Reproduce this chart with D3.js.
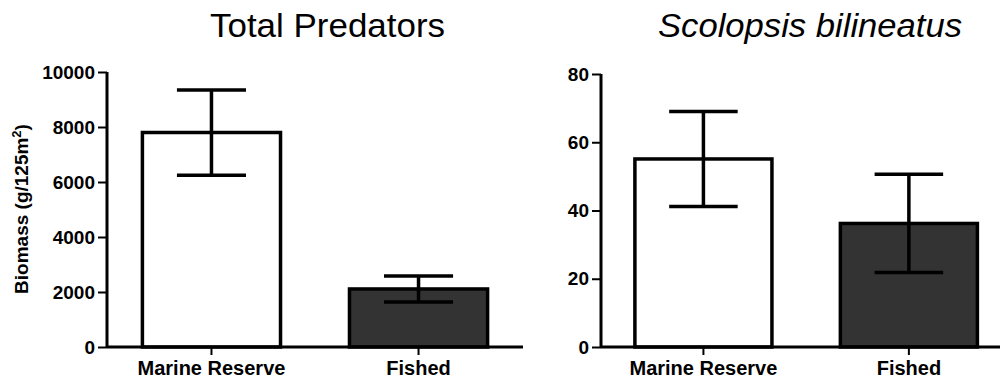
<!DOCTYPE html>
<html>
<head>
<meta charset="utf-8">
<script src="https://cdn.jsdelivr.net/npm/d3@7"></script>
<style>
  html, body { margin: 0; padding: 0; background: #fff; }
  svg { display: block; }
  text { font-family: "Liberation Sans", Arial, sans-serif; }
</style>
</head>
<body>
<svg id="chart" width="1003" height="381"></svg>
<script>
const categories = ["Marine Reserve", "Fished"];
const predatorMeans = [7800, 2110];
const predatorErrors = [1550, 470];
const scolopsisMeans = [55.1, 36.2];
const scolopsisErrors = [13.9, 14.4];
const predatorTicks = [0, 2000, 4000, 6000, 8000, 10000];
const scolopsisTicks = [0, 20, 40, 60, 80];
const barFills = ["#ffffff", "#333333"];

const svg = d3.select("#chart");

function panel(opts) {
  const g = svg.append("g");
  const x = d3.scaleBand().domain(categories)
    .range([opts.x0, opts.x1])
    .paddingInner(0.333).paddingOuter(opts.po).align(opts.align);
  const y = d3.scaleLinear().domain([0, opts.max]).range([347, opts.yTop]);
  const data = categories.map((c, i) => ({c, v: opts.means[i], e: opts.errs[i], fill: barFills[i]}));

  // bars
  g.selectAll("rect.bar").data(data).join("rect")
    .attr("class", "bar")
    .attr("x", d => x(d.c))
    .attr("y", d => y(d.v))
    .attr("width", x.bandwidth())
    .attr("height", d => y(0) - y(d.v))
    .attr("fill", d => d.fill)
    .attr("stroke", "#000")
    .attr("stroke-width", 3.5);

  // error bars
  const capW = x.bandwidth() / 2;
  const eb = g.selectAll("g.err").data(data).join("g").attr("class", "err");
  eb.append("line")
    .attr("x1", d => x(d.c) + x.bandwidth() / 2)
    .attr("x2", d => x(d.c) + x.bandwidth() / 2)
    .attr("y1", d => y(d.v + d.e))
    .attr("y2", d => y(d.v - d.e))
    .attr("stroke", "#000").attr("stroke-width", 3.5);
  eb.append("line")
    .attr("x1", d => x(d.c) + x.bandwidth() / 2 - capW / 2)
    .attr("x2", d => x(d.c) + x.bandwidth() / 2 + capW / 2)
    .attr("y1", d => y(d.v + d.e)).attr("y2", d => y(d.v + d.e))
    .attr("stroke", "#000").attr("stroke-width", 3.5);
  eb.append("line")
    .attr("x1", d => x(d.c) + x.bandwidth() / 2 - capW / 2)
    .attr("x2", d => x(d.c) + x.bandwidth() / 2 + capW / 2)
    .attr("y1", d => y(d.v - d.e)).attr("y2", d => y(d.v - d.e))
    .attr("stroke", "#000").attr("stroke-width", 3.5);

  // y axis
  const ya = g.append("g").attr("transform", `translate(${opts.x0},0)`)
    .call(d3.axisLeft(y).tickValues(opts.ticks).tickSize(9).tickPadding(3).tickFormat(d3.format("d")));
  ya.select(".domain").attr("stroke-width", 3).attr("d", `M0,${y(opts.max)}V${y(0)}`);
  ya.selectAll(".tick line").attr("stroke-width", 2);
  ya.selectAll(".tick text").attr("font-size", 19).attr("font-weight", "bold")
    .attr("fill", "#000").attr("font-family", "Liberation Sans, Arial, sans-serif");

  // x axis
  const xa = g.append("g").attr("transform", `translate(0,${y(0)})`)
    .call(d3.axisBottom(x).tickSize(8).tickPadding(6));
  xa.select(".domain").attr("stroke-width", 3).attr("d", `M${opts.x0},0H${opts.x1}`);
  xa.selectAll(".tick line").attr("stroke-width", 2);
  xa.selectAll(".tick text").attr("font-size", 20).attr("font-weight", "bold")
    .attr("fill", "#000").attr("font-family", "Liberation Sans, Arial, sans-serif");

  // title
  const t = g.append("text")
    .attr("x", opts.titleX).attr("y", 37)
    .attr("text-anchor", "middle")
    .attr("font-size", 33)
    .attr("textLength", opts.titleLen)
    .attr("lengthAdjust", "spacingAndGlyphs")
    .attr("fill", "#000")
    .text(opts.title);
  if (opts.italic) t.attr("font-style", "italic");
  return {x, y};
}

panel({x0: 107, x1: 523, po: 0.171, align: 0.5, max: 10000, yTop: 72,
  means: predatorMeans, errs: predatorErrors, ticks: predatorTicks,
  title: "Total Predators", titleX: 327.5, titleLen: 235, italic: false});
panel({x0: 601, x1: 1000, po: 0.1375, align: 0.6, max: 80, yTop: 74,
  means: scolopsisMeans, errs: scolopsisErrors, ticks: scolopsisTicks,
  title: "Scolopsis bilineatus", titleX: 810, titleLen: 304, italic: true});

// y axis label
const yl = svg.append("text")
  .attr("transform", "translate(28,209) rotate(-90)")
  .attr("text-anchor", "middle")
  .attr("font-size", 19).attr("font-weight", "bold").attr("fill", "#000");
yl.append("tspan").text("Biomass (g/125m");
yl.append("tspan").attr("dy", -7).attr("font-size", 13).text("2");
yl.append("tspan").attr("dy", 7).text(")");
</script>
</body>
</html>
